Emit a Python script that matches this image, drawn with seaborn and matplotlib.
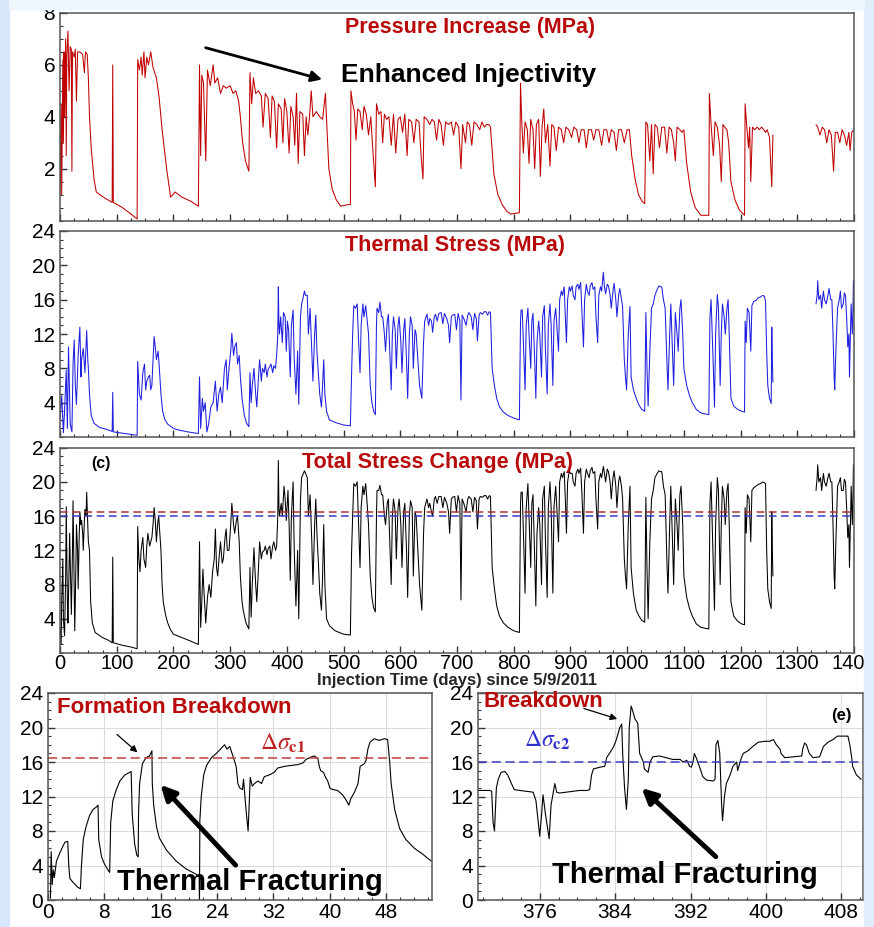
import numpy as np
import pandas as pd
import seaborn as sns
import matplotlib
matplotlib.use("Agg")
import matplotlib.pyplot as plt
from matplotlib.patches import Rectangle
from matplotlib.ticker import MultipleLocator

# ---------------- data (day, value) ----------------
pressure_pts = [
    (0, 1.0), (2, 4.5), (3, 1.0), (5, 6.2), (6, 3.0), (7, 6.5), (8, 4.0), (10, 7.0), (11, 2.5), (12, 6.3),
    (14, 7.3), (16, 5.0), (18, 6.7), (20, 6.6), (21, 1.9), (22, 6.5), (25, 6.3), (27, 6.6), (29, 4.6), (31, 6.5),
    (35, 6.5), (40, 6.4), (43, 5.7), (45, 6.5), (48, 6.4), (50, 5.5), (52, 4.0), (55, 2.8), (60, 1.6), (64, 1.1),
    (70, 1.0), (80, 0.85), (92, 0.7), (93, 6.0), (94, 0.7), (110, 0.5), (125, 0.25), (136, 0.06),
    (137, 6.2), (140, 5.8), (143, 6.3), (145, 5.6), (148, 6.5), (150, 5.5), (153, 6.3), (156, 6.0), (160, 6.5),
    (164, 5.9), (170, 5.5), (175, 4.7), (180, 3.5), (188, 2.0), (195, 0.9), (203, 1.1), (215, 0.9), (230, 0.75), (244, 0.55),
    (246, 6.0), (248, 2.5), (250, 5.6), (253, 5.3), (257, 2.3), (260, 5.8), (265, 5.2), (270, 6.0), (273, 5.3),
    (278, 5.5), (283, 4.9), (288, 5.2), (293, 5.1), (300, 5.2), (305, 4.9), (310, 5.0), (315, 4.6), (318, 4.0),
    (322, 3.0), (327, 2.3), (333, 1.9),
    (335, 5.7), (338, 4.5), (341, 5.5), (345, 4.9), (350, 5.0), (355, 4.8), (358, 3.6), (362, 4.9), (367, 4.7),
    (371, 3.2), (374, 4.8), (378, 4.6), (382, 2.8), (385, 4.5), (390, 4.3), (393, 3.0), (396, 4.7), (400, 4.2),
    (404, 2.6), (407, 4.4), (411, 4.0), (414, 2.9), (417, 4.9), (420, 2.2), (423, 4.2), (428, 4.1), (431, 2.5),
    (434, 4.0), (437, 3.3), (440, 4.0), (443, 5.0), (446, 4.0), (452, 4.2), (458, 4.0), (463, 3.9), (468, 4.9),
    (470, 3.9), (474, 2.0), (480, 1.2), (487, 0.8), (495, 0.55), (505, 0.6), (512, 0.62),
    (513, 5.0), (516, 4.5), (519, 4.2), (522, 3.1), (525, 4.3), (529, 4.2), (533, 3.5), (536, 4.4), (540, 4.1),
    (544, 3.3), (548, 4.0), (552, 2.6), (556, 1.3), (558, 4.5), (562, 4.1), (566, 4.2), (569, 3.0), (572, 4.1),
    (576, 3.9), (580, 4.0), (584, 2.9), (588, 4.1), (592, 2.6), (596, 3.9), (600, 4.0), (604, 3.4), (608, 4.1),
    (612, 2.5), (615, 3.9), (620, 3.8), (624, 3.0), (628, 3.9), (633, 3.8), (637, 2.4), (640, 1.6), (642, 4.0),
    (647, 3.9), (652, 3.7), (656, 3.9), (660, 3.8), (664, 3.1), (668, 3.9), (672, 3.7), (676, 2.9), (680, 3.8),
    (685, 3.7), (690, 3.8), (694, 3.3), (698, 3.8), (703, 3.6), (707, 2.0), (710, 3.7), (715, 3.0), (718, 3.8),
    (722, 3.7), (726, 2.9), (730, 3.8), (735, 3.7), (740, 3.5), (744, 3.8), (748, 3.6), (752, 3.7), (756, 3.7),
    (759, 3.6), (765, 1.8), (772, 1.0), (780, 0.6), (788, 0.35), (795, 0.25), (810, 0.3),
    (812, 5.3), (814, 3.9), (817, 2.6), (820, 3.8), (824, 3.5), (827, 2.2), (830, 3.9), (834, 3.5), (837, 2.0),
    (840, 3.7), (844, 3.9), (847, 1.7), (850, 3.6), (853, 4.3), (856, 3.0), (860, 3.7), (864, 2.1), (867, 3.7),
    (871, 3.6), (875, 2.7), (879, 3.6), (884, 3.5), (888, 3.0), (892, 3.6), (897, 3.5), (902, 3.2), (906, 3.6),
    (911, 3.5), (915, 3.0), (919, 3.5), (924, 3.5), (928, 2.8), (932, 3.5), (937, 3.5), (941, 3.1), (945, 3.5),
    (950, 3.5), (955, 2.9), (959, 3.5), (964, 3.5), (968, 3.0), (972, 3.5), (977, 3.4), (981, 2.7), (985, 3.5),
    (990, 3.5), (995, 3.0), (1000, 3.5), (1004, 3.5), (1008, 2.5), (1014, 1.6), (1020, 1.0), (1026, 0.75), (1031, 0.65),
    (1033, 3.8), (1036, 3.7), (1040, 2.3), (1043, 3.7), (1046, 1.8), (1049, 3.7), (1053, 3.6), (1057, 2.8),
    (1061, 3.6), (1066, 3.6), (1070, 2.6), (1074, 3.6), (1078, 3.5), (1082, 3.0), (1085, 2.3), (1088, 3.6),
    (1093, 3.5), (1097, 3.4), (1100, 3.5), (1105, 2.2), (1112, 1.1), (1120, 0.5), (1130, 0.2), (1144, 0.2),
    (1145, 4.9), (1148, 3.7), (1152, 2.5), (1155, 3.8), (1159, 3.6), (1163, 2.9), (1166, 1.5), (1169, 3.7),
    (1172, 3.6), (1176, 3.5), (1179, 3.0), (1183, 1.5), (1190, 0.8), (1198, 0.4), (1207, 0.2),
    (1208, 4.5), (1211, 3.6), (1214, 2.8), (1216, 3.6), (1218, 1.5), (1221, 3.6), (1225, 3.5), (1229, 3.6),
    (1233, 3.5), (1237, 3.6), (1241, 3.5), (1244, 3.4), (1247, 3.5), (1251, 3.2), (1255, 1.3), (1257, 3.3),
    (1295, np.nan),
    (1333, 3.7), (1336, 3.6), (1340, 3.3), (1344, 3.6), (1348, 3.5), (1352, 3.0), (1356, 3.5), (1360, 3.3),
    (1364, 1.9), (1367, 3.4), (1371, 3.4), (1375, 3.0), (1379, 3.5), (1383, 3.3), (1387, 2.9), (1391, 3.4),
    (1393, 2.7), (1396, 3.4), (1400, 3.5),
]

thermal_pts = [
    (0, 2.0), (3, 4.8), (6, 0.5), (8, 3.0), (11, 7.8), (13, 1.0), (15, 10.5), (18, 1.5), (21, 0.6), (23, 8.5),
    (25, 11.3), (27, 6.0), (29, 3.8), (32, 9.5), (35, 12.8), (37, 7.0), (38, 9.0), (41, 10.3), (44, 7.5),
    (47, 12.4), (49, 9.0), (50, 8.0), (52, 5.0), (55, 2.5), (60, 1.6), (70, 1.1), (82, 0.9), (92, 0.65),
    (93, 5.2), (94, 0.6), (110, 0.45), (125, 0.3), (136, 0.2),
    (137, 8.8), (140, 5.0), (143, 4.3), (146, 7.5), (149, 8.5), (151, 5.5), (153, 6.5), (156, 7.0), (158, 7.2),
    (160, 5.5), (162, 6.0), (164, 9.0), (166, 11.7), (168, 10.5), (170, 9.0), (173, 10.0), (175, 8.2), (178, 5.0),
    (181, 3.0), (185, 2.0), (190, 1.5), (200, 1.0), (210, 0.8), (225, 0.6), (244, 0.4),
    (246, 7.0), (248, 1.0), (251, 4.5), (253, 3.0), (256, 4.0), (259, 0.6), (262, 1.5), (266, 3.5), (270, 4.0),
    (274, 6.5), (277, 3.0), (280, 5.0), (283, 5.8), (286, 4.0), (290, 8.0), (293, 9.0), (295, 5.5), (298, 8.0),
    (301, 10.0), (303, 12.1), (306, 9.5), (308, 10.5), (311, 11.0), (313, 8.5), (316, 9.5), (318, 7.0),
    (321, 4.5), (325, 2.5), (329, 1.6), (333, 1.2),
    (335, 7.5), (337, 4.0), (339, 6.0), (342, 8.0), (345, 5.0), (347, 3.5), (350, 7.0), (352, 9.0), (355, 6.5),
    (357, 8.0), (360, 7.5), (362, 8.5), (365, 7.0), (367, 7.9), (370, 8.2), (372, 8.5), (375, 7.5), (377, 8.3),
    (380, 8.0), (382, 9.5), (384, 12.0), (385, 17.5), (386, 13.0), (387, 12.0), (389, 14.0), (392, 11.0),
    (394, 14.5), (397, 14.0), (399, 10.0), (401, 13.5), (403, 12.5), (406, 7.0), (408, 13.0), (411, 14.8),
    (413, 9.0), (416, 5.0), (419, 10.0), (421, 3.8), (424, 14.0), (426, 15.5), (428, 16.0), (431, 17.0),
    (433, 16.5), (436, 16.5), (438, 12.0), (441, 15.0), (444, 10.0), (446, 6.5), (449, 12.0), (451, 14.2),
    (453, 10.0), (456, 7.0), (458, 5.0), (461, 3.5), (463, 6.0), (465, 9.0), (467, 5.0), (470, 3.0), (475, 2.0),
    (485, 1.7), (500, 1.4), (512, 1.3),
    (514, 7.0), (516, 12.0), (518, 15.3), (521, 15.0), (524, 15.5), (526, 12.0), (529, 7.5), (531, 13.0),
    (534, 15.5), (536, 14.0), (539, 15.3), (541, 14.0), (544, 12.0), (547, 6.0), (550, 4.0), (553, 3.0),
    (556, 2.6), (558, 13.0), (559, 15.0), (562, 14.5), (564, 15.7), (567, 14.0), (569, 14.0), (572, 12.0),
    (574, 10.0), (577, 13.5), (579, 14.3), (582, 9.0), (584, 5.5), (586, 12.0), (588, 14.0), (591, 12.5),
    (593, 8.0), (596, 13.0), (598, 14.0), (601, 11.0), (603, 7.5), (606, 12.5), (608, 13.8), (611, 9.0),
    (613, 4.5), (616, 12.0), (618, 14.0), (621, 13.0), (623, 8.0), (626, 12.5), (628, 12.0), (631, 9.0),
    (634, 6.0), (638, 4.5), (641, 11.0), (643, 13.5), (647, 14.3), (650, 13.0), (652, 13.8), (655, 13.5),
    (657, 12.2), (660, 14.0), (662, 14.3), (665, 13.5), (668, 14.4), (672, 14.5), (675, 13.2), (678, 14.4),
    (682, 13.8), (685, 13.0), (687, 11.0), (690, 14.0), (692, 14.2), (696, 14.3), (699, 12.5), (702, 14.4),
    (705, 13.5), (707, 4.3), (709, 14.2), (712, 13.8), (716, 13.0), (719, 14.2), (721, 14.5), (725, 14.0),
    (728, 12.5), (731, 14.4), (734, 13.8), (736, 11.2), (739, 14.2), (741, 14.5), (745, 14.3), (748, 14.6),
    (751, 14.6), (754, 14.2), (757, 14.6), (759, 14.5), (762, 8.0), (766, 6.0), (770, 4.5), (775, 3.5),
    (782, 2.9), (790, 2.5), (800, 2.2), (810, 2.0),
    (812, 13.5), (813, 14.8), (815, 14.8), (818, 9.0), (820, 5.5), (822, 13.0), (825, 15.0), (827, 12.0),
    (830, 8.0), (832, 13.5), (834, 14.4), (837, 9.0), (839, 4.5), (841, 11.0), (844, 13.5), (846, 12.0),
    (849, 7.0), (851, 14.0), (854, 15.3), (856, 10.0), (859, 5.0), (861, 13.0), (864, 15.5), (866, 13.0),
    (869, 6.0), (871, 13.5), (874, 15.0), (876, 13.0), (879, 10.0), (881, 16.0), (884, 17.0), (886, 16.5),
    (889, 17.5), (891, 14.0), (893, 11.0), (895, 16.0), (898, 17.5), (900, 17.0), (903, 17.6), (905, 16.5),
    (908, 16.0), (910, 17.5), (913, 17.8), (915, 17.2), (918, 18.0), (920, 15.0), (923, 10.5), (925, 16.0),
    (928, 17.8), (930, 17.0), (933, 16.5), (935, 17.6), (938, 18.0), (940, 17.2), (943, 17.5), (945, 14.0),
    (948, 11.0), (950, 16.5), (953, 17.5), (955, 17.0), (958, 19.2), (960, 17.5), (962, 16.7), (965, 17.8),
    (967, 17.6), (970, 16.5), (972, 15.0), (975, 17.0), (977, 17.9), (980, 16.0), (982, 14.0), (985, 16.5),
    (987, 17.3), (990, 16.0), (992, 15.2), (995, 9.0), (997, 7.0), (999, 5.5), (1002, 12.0), (1005, 15.2),
    (1007, 7.0), (1011, 5.5), (1016, 4.5), (1021, 3.7), (1026, 3.2), (1031, 3.0),
    (1033, 14.5), (1035, 8.0), (1037, 3.6), (1040, 10.0), (1043, 15.0), (1046, 15.5), (1049, 16.5), (1053, 17.2),
    (1056, 17.6), (1059, 17.5), (1061, 17.5), (1064, 16.0), (1067, 15.0), (1070, 9.0), (1072, 5.5), (1075, 12.0),
    (1077, 15.5), (1080, 10.0), (1082, 6.0), (1084, 12.0), (1085, 14.5), (1088, 12.0), (1090, 10.0), (1093, 15.0),
    (1095, 16.0), (1098, 12.0), (1100, 8.0), (1105, 6.0), (1110, 4.8), (1115, 4.0), (1122, 3.2), (1130, 2.8), (1144, 2.6),
    (1146, 14.0), (1148, 16.0), (1150, 12.0), (1152, 8.0), (1154, 3.5), (1156, 12.0), (1159, 16.6), (1161, 15.0),
    (1164, 6.0), (1166, 12.0), (1168, 15.5), (1171, 14.0), (1173, 12.0), (1176, 15.0), (1178, 16.0), (1180, 12.0),
    (1183, 4.5), (1188, 3.6), (1195, 3.2), (1202, 3.0), (1207, 2.9),
    (1208, 13.5), (1210, 11.0), (1212, 15.0), (1215, 14.5), (1218, 10.0), (1220, 15.3), (1223, 15.8), (1227, 15.9),
    (1231, 16.2), (1235, 16.3), (1239, 16.5), (1242, 16.4), (1244, 15.8), (1246, 10.0), (1248, 6.0), (1251, 4.5),
    (1254, 3.9), (1255, 12.8), (1256, 9.0), (1257, 6.4),
    (1295, np.nan),
    (1333, 15.5), (1335, 16.5), (1336, 18.2), (1338, 16.0), (1341, 16.5), (1343, 15.0), (1346, 17.0), (1348, 16.0),
    (1351, 15.5), (1354, 16.5), (1356, 17.3), (1359, 16.0), (1361, 16.0), (1363, 12.0), (1365, 7.0), (1366, 5.5),
    (1368, 10.0), (1371, 15.0), (1374, 16.0), (1376, 17.0), (1378, 15.0), (1381, 15.5), (1383, 16.8), (1385, 16.5),
    (1387, 14.0), (1389, 10.5), (1391, 12.0), (1392, 7.0), (1394, 13.0), (1395, 15.5), (1397, 12.0), (1398, 14.0),
    (1399, 18.2), (1400, 14.5),
]

total_pts = [
    (0, 3.0), (2, 1.0), (3, 6.0), (5, 11.0), (6, 4.0), (8, 2.0), (10, 9.0), (11, 17.1), (13, 6.0), (14, 3.5),
    (16, 10.0), (17, 14.0), (19, 8.0), (20, 4.5), (22, 12.0), (23, 17.8), (25, 7.0), (26, 2.6), (28, 10.0),
    (29, 15.0), (31, 12.0), (32, 7.5), (34, 14.0), (35, 16.5), (37, 15.0), (38, 15.5), (40, 14.0), (41, 12.0),
    (43, 15.5), (44, 16.8), (46, 16.0), (47, 18.8), (49, 15.0), (50, 13.0), (52, 12.0), (54, 6.0), (57, 3.5),
    (62, 2.4), (64, 2.3), (75, 1.8), (85, 1.5), (92, 1.2), (93, 11.2), (94, 1.2), (110, 0.9), (125, 0.7), (136, 0.5),
    (137, 14.8), (139, 11.0), (141, 9.5), (143, 12.0), (146, 13.5), (148, 11.0), (151, 10.0), (153, 12.5),
    (155, 14.0), (157, 13.0), (158, 12.5), (160, 13.0), (162, 13.5), (164, 15.0), (166, 17.0), (168, 15.5),
    (170, 13.0), (172, 15.0), (174, 16.0), (176, 14.0), (178, 12.0), (180, 8.0), (182, 6.0), (186, 4.5),
    (190, 3.5), (195, 2.7), (200, 2.2), (215, 1.8), (230, 1.4), (244, 1.0),
    (246, 13.0), (248, 3.0), (250, 6.0), (252, 9.8), (254, 7.0), (257, 3.5), (260, 6.5), (263, 8.0), (266, 6.5),
    (269, 9.5), (272, 11.0), (274, 14.5), (276, 10.0), (278, 9.0), (281, 11.5), (283, 13.0), (286, 10.5),
    (288, 11.0), (291, 13.5), (293, 14.5), (295, 12.0), (298, 12.0), (301, 15.0), (303, 17.5), (306, 15.0),
    (308, 14.0), (311, 15.5), (313, 16.0), (316, 13.0), (318, 9.0), (321, 6.0), (323, 5.0), (328, 3.5), (333, 2.8),
    (335, 10.0), (337, 4.2), (339, 8.0), (342, 12.3), (345, 8.0), (347, 6.0), (350, 10.0), (352, 13.0),
    (355, 11.0), (357, 11.8), (360, 12.0), (362, 12.5), (365, 11.5), (367, 12.2), (370, 12.5), (372, 11.0),
    (375, 12.5), (377, 13.0), (380, 12.0), (382, 12.5), (384, 16.0), (385, 22.5), (386, 17.0), (387, 16.0),
    (390, 17.5), (392, 16.0), (395, 19.5), (397, 18.0), (399, 15.5), (402, 19.0), (404, 15.0), (406, 8.5),
    (408, 16.0), (411, 20.0), (413, 12.0), (416, 5.5), (419, 12.0), (421, 4.0), (424, 18.0), (426, 20.5),
    (428, 20.8), (431, 21.3), (433, 21.0), (436, 20.5), (438, 16.0), (441, 18.5), (444, 13.0), (446, 8.0),
    (449, 15.0), (451, 18.0), (453, 14.0), (456, 10.0), (458, 7.0), (461, 5.0), (463, 9.0), (465, 15.0),
    (467, 8.0), (470, 4.0), (475, 3.2), (485, 2.6), (500, 2.2), (512, 2.1),
    (514, 11.5), (516, 16.0), (518, 19.8), (521, 19.5), (524, 20.0), (526, 16.0), (529, 10.0), (531, 17.0),
    (534, 19.5), (536, 18.5), (539, 19.8), (541, 18.0), (544, 15.0), (547, 9.0), (550, 6.5), (553, 5.3),
    (556, 4.8), (558, 16.0), (559, 19.0), (562, 19.0), (564, 19.6), (567, 18.5), (569, 18.5), (572, 16.0),
    (574, 15.0), (577, 17.5), (579, 18.0), (582, 12.0), (584, 8.0), (586, 16.0), (588, 18.0), (591, 16.5),
    (593, 11.0), (596, 17.0), (598, 18.0), (601, 15.0), (603, 10.0), (606, 16.5), (608, 17.5), (611, 12.0),
    (613, 6.5), (616, 16.0), (618, 17.8), (621, 17.0), (623, 9.0), (626, 16.5), (628, 16.0), (631, 12.0),
    (634, 8.0), (638, 5.0), (641, 14.0), (643, 17.0), (647, 18.0), (650, 17.0), (652, 17.5), (655, 16.5),
    (657, 16.0), (660, 18.0), (662, 18.3), (665, 17.5), (668, 18.3), (672, 18.3), (675, 17.0), (678, 18.2),
    (682, 17.5), (685, 16.5), (687, 14.0), (690, 18.0), (692, 18.2), (696, 18.3), (699, 16.5), (702, 18.4),
    (705, 17.5), (707, 6.2), (709, 18.0), (712, 17.5), (716, 16.5), (719, 18.0), (721, 18.3), (725, 18.0),
    (728, 16.5), (731, 18.2), (734, 17.8), (736, 14.5), (739, 18.0), (741, 18.3), (745, 18.2), (748, 18.4),
    (751, 18.4), (754, 18.0), (757, 18.4), (759, 18.3), (762, 10.0), (766, 7.5), (770, 5.5), (775, 4.3),
    (782, 3.5), (790, 3.0), (800, 2.6), (810, 2.4),
    (812, 17.5), (813, 18.8), (815, 18.8), (818, 12.0), (820, 7.0), (822, 17.0), (825, 19.8), (827, 16.0),
    (830, 10.0), (832, 17.5), (834, 18.5), (837, 11.0), (839, 5.5), (841, 14.0), (844, 17.0), (846, 15.0),
    (849, 8.0), (851, 18.0), (854, 19.5), (856, 13.0), (859, 6.5), (861, 17.0), (864, 20.0), (866, 17.0),
    (869, 7.0), (871, 17.0), (874, 19.5), (876, 17.0), (879, 13.0), (881, 20.0), (884, 21.0), (886, 20.5),
    (889, 21.2), (891, 18.0), (893, 14.0), (895, 20.0), (898, 21.3), (900, 21.0), (903, 21.0), (905, 20.0),
    (908, 19.5), (910, 21.0), (913, 21.5), (915, 21.0), (918, 21.6), (920, 19.0), (923, 14.0), (925, 20.0),
    (928, 21.5), (930, 21.0), (933, 20.5), (935, 21.3), (938, 21.7), (940, 21.0), (943, 21.2), (945, 18.0),
    (948, 14.5), (950, 20.0), (953, 21.0), (955, 20.5), (958, 21.8), (960, 21.0), (962, 20.0), (965, 21.5),
    (967, 21.2), (970, 20.0), (972, 18.0), (975, 20.5), (977, 21.3), (980, 19.5), (982, 17.0), (985, 20.0),
    (987, 20.7), (990, 19.5), (992, 18.0), (995, 11.0), (997, 9.0), (999, 7.5), (1002, 15.0), (1005, 19.5),
    (1007, 10.0), (1011, 7.0), (1016, 5.0), (1021, 4.3), (1026, 3.8), (1031, 3.6),
    (1033, 18.2), (1035, 10.0), (1037, 4.0), (1040, 13.0), (1043, 18.0), (1046, 19.0), (1049, 20.5), (1053, 21.0),
    (1056, 21.3), (1059, 21.2), (1061, 21.2), (1064, 19.5), (1067, 18.5), (1070, 11.0), (1072, 7.0), (1075, 15.0),
    (1077, 19.5), (1080, 13.0), (1082, 8.0), (1084, 15.0), (1085, 18.0), (1088, 15.0), (1090, 12.0), (1093, 18.5),
    (1095, 19.5), (1098, 15.0), (1100, 9.0), (1105, 6.5), (1110, 5.2), (1115, 4.3), (1122, 3.4), (1130, 3.0), (1144, 2.8),
    (1146, 17.5), (1148, 20.0), (1150, 15.0), (1152, 10.0), (1154, 5.0), (1156, 15.0), (1159, 20.5), (1161, 19.0),
    (1164, 8.0), (1166, 15.0), (1168, 19.5), (1171, 18.0), (1173, 15.0), (1176, 19.0), (1178, 19.8), (1180, 15.0),
    (1183, 6.0), (1188, 4.3), (1195, 3.7), (1202, 3.4), (1207, 3.3),
    (1208, 17.0), (1210, 14.0), (1212, 18.5), (1215, 18.0), (1218, 13.0), (1220, 19.0), (1223, 19.3), (1227, 19.5),
    (1231, 19.7), (1235, 19.8), (1239, 20.0), (1242, 19.9), (1244, 19.8), (1246, 12.0), (1248, 7.5), (1251, 6.0),
    (1254, 5.2), (1255, 16.5), (1256, 12.0), (1257, 9.0),
    (1295, np.nan),
    (1333, 19.0), (1335, 20.5), (1336, 22.0), (1338, 20.0), (1341, 20.5), (1343, 19.0), (1346, 21.0), (1348, 20.0),
    (1351, 19.5), (1354, 20.5), (1356, 21.0), (1359, 20.0), (1361, 20.0), (1363, 15.0), (1365, 9.0), (1366, 7.5),
    (1368, 13.0), (1371, 19.5), (1374, 20.0), (1376, 20.5), (1378, 19.0), (1381, 19.0), (1383, 20.3), (1385, 20.0),
    (1387, 17.0), (1389, 13.5), (1391, 15.0), (1392, 10.0), (1394, 16.0), (1395, 19.5), (1397, 15.0), (1398, 17.5),
    (1399, 22.0), (1400, 18.0),
]

# zoom (d): first ~55 days
early_pts = [
    (0.35, 0.2), (0.45, 5.6), (0.6, 1.8), (0.75, 3.5), (0.9, 2.6), (1.0, 3.2), (1.2, 4.5), (1.7, 5.5), (2.1, 6.2),
    (2.4, 6.7), (2.8, 6.8), (2.95, 4.0), (3.1, 2.5), (3.6, 2.0), (4.2, 1.5), (4.6, 1.3),
    (4.75, 4.0), (5.0, 7.0), (5.4, 8.5), (5.9, 9.8), (6.4, 10.5), (6.9, 10.8), (7.1, 11.0), (7.2, 7.0),
    (7.6, 5.0), (8.0, 4.2), (8.5, 3.5), (8.75, 3.2),
    (8.9, 9.0), (9.2, 11.5), (9.7, 12.8), (10.2, 13.8), (10.9, 14.5), (11.6, 14.8), (11.8, 14.9), (11.95, 10.0),
    (12.3, 6.5), (12.6, 5.2), (12.8, 5.0),
    (12.85, 10.0), (13.0, 13.5), (13.4, 15.8), (13.9, 16.5), (14.4, 16.7), (14.75, 17.3), (14.8, 13.5),
    (15.0, 11.0), (15.4, 8.5), (15.8, 7.2), (16.8, 5.8), (18.2, 4.5), (19.6, 3.6), (21.0, 3.0), (21.45, 2.7),
    (21.5, 0.0), (21.55, 9.2), (21.75, 12.0), (22.1, 14.5), (22.5, 15.6), (23.2, 16.5), (23.9, 17.0), (24.6, 17.6),
    (25.06, 18.0), (25.4, 17.5), (25.8, 17.8), (26.2, 16.8), (26.7, 15.5), (26.95, 13.5), (27.2, 13.0),
    (27.6, 12.8), (27.75, 14.0), (27.9, 12.5), (28.1, 10.5), (28.4, 8.0), (28.55, 11.0), (28.7, 14.2),
    (29.0, 13.2), (29.3, 13.5), (29.8, 13.8), (30.3, 13.5), (30.7, 14.3), (31.4, 14.5), (32.1, 14.8),
    (32.6, 15.3), (33.6, 15.5), (34.5, 15.6), (35.5, 15.7), (36.2, 15.9), (36.6, 16.3), (37.4, 16.6),
    (37.8, 16.7), (38.3, 16.4), (38.5, 15.5), (38.7, 15.0), (39.1, 14.8), (39.4, 14.2), (39.7, 13.8),
    (40.0, 13.0), (40.4, 12.8), (41.1, 12.7), (41.8, 12.2), (42.3, 11.6), (42.7, 11.0), (43.0, 11.8),
    (43.5, 12.5), (44.0, 13.5), (44.3, 15.5), (44.9, 15.8), (45.15, 16.2), (45.4, 17.5), (45.7, 18.3),
    (46.3, 18.7), (47.0, 18.5), (47.75, 18.7), (48.2, 18.6), (48.5, 16.0), (48.7, 13.5), (49.2, 10.5),
    (49.9, 8.3), (50.8, 7.0), (52.0, 6.0), (53.2, 5.3), (54.4, 4.5),
]

# zoom (e): days ~370-410
mid_pts = [
    (369.5, 12.7), (370.7, 12.7), (370.9, 12.6), (371.05, 9.0), (371.2, 8.0), (371.4, 13.0), (371.6, 14.0),
    (371.9, 14.8), (372.3, 14.9), (372.6, 14.5), (373.0, 13.5), (373.3, 12.8), (373.9, 12.7), (374.6, 12.6),
    (375.3, 12.5), (375.6, 11.5), (376.0, 7.4), (376.2, 10.0), (376.35, 12.2), (376.6, 10.0), (377.0, 7.1),
    (377.2, 11.0), (377.6, 13.5), (377.8, 12.5), (378.1, 12.4), (378.8, 12.5), (379.5, 12.6), (380.2, 12.7),
    (381.0, 12.7), (381.3, 12.8), (381.5, 14.5), (381.7, 15.2), (382.4, 15.4), (382.9, 15.5), (383.1, 16.5),
    (383.4, 17.0), (383.8, 17.7), (384.1, 18.5), (384.5, 20.0), (384.7, 20.4), (384.8, 17.0), (385.0, 13.0),
    (385.2, 10.5), (385.4, 14.0), (385.5, 20.0), (385.7, 22.5), (385.9, 21.8), (386.1, 21.0), (386.4, 20.5),
    (386.6, 17.0), (386.8, 16.5), (387.0, 16.0), (387.1, 15.2), (387.5, 14.8), (387.7, 16.0), (388.0, 16.6),
    (388.7, 16.7), (389.4, 16.5), (390.1, 16.3), (390.9, 16.3), (391.2, 16.0), (391.6, 16.2), (391.9, 15.5),
    (392.1, 15.4), (392.3, 16.2), (392.4, 17.0), (392.6, 16.5), (393.0, 15.3), (393.3, 14.3), (393.7, 13.9),
    (394.4, 13.8), (394.6, 14.0), (394.7, 18.0), (394.9, 18.5), (395.1, 17.0), (395.3, 11.0), (395.4, 9.2),
    (395.6, 12.0), (395.8, 13.5), (396.2, 14.5), (396.5, 15.5), (396.9, 16.0), (397.0, 15.0), (397.4, 16.5),
    (397.6, 17.0), (398.1, 17.3), (398.6, 17.8), (399.2, 18.3), (399.9, 18.4), (400.4, 18.4), (400.8, 18.6),
    (401.1, 18.0), (401.5, 17.5), (401.6, 17.0), (402.0, 16.5), (402.9, 16.6), (403.8, 16.7), (403.9, 17.5),
    (404.1, 18.2), (404.3, 18.0), (404.6, 17.0), (405.0, 16.5), (405.7, 16.6), (406.1, 17.8), (406.6, 18.3),
    (407.1, 18.6), (407.6, 19.0), (408.2, 19.0), (408.7, 19.0), (408.9, 18.0), (409.1, 16.5), (409.2, 15.5),
    (409.6, 14.5), (410.1, 14.0),
]

sigma_c1 = 16.5   # red dashed threshold
sigma_c2 = 16.0   # blue dashed threshold

# ---------------- helpers ----------------
def frame(pts):
    df = pd.DataFrame(pts, columns=["day", "val"])
    df["seg"] = df["val"].isna().cumsum()
    return df.dropna()

W, H = 874, 927
sns.set_theme(style="ticks")
plt.rcParams["font.family"] = ["Liberation Sans", "DejaVu Sans"]
plt.rcParams["axes.linewidth"] = 1.1
plt.rcParams["axes.edgecolor"] = "#555555"
plt.rcParams["mathtext.fontset"] = "stix"

fig = plt.figure(figsize=(W / 100, H / 100), dpi=100, facecolor="white")

def add_ax(x0, y0, x1, y1):
    return fig.add_axes([x0 / W, 1 - y1 / H, (x1 - x0) / W, (y1 - y0) / H])

ax1 = add_ax(60, 13, 854, 220.5)
ax2 = add_ax(60, 231, 854, 437)
ax3 = add_ax(60, 447.7, 854, 653)
ax4 = add_ax(48, 693, 432, 900)
ax5 = add_ax(478, 693, 863, 900)

RED = "#c00000"
TITLE_RED = "#b80a0a"
BLUE = "#1f1fe0"

def style(ax, xmin, ymin, tick_font=14, xpad=2):
    ax.tick_params(which="both", direction="in", top=False, right=False, colors="#333333",
                   labelcolor="black", labelsize=tick_font)
    ax.tick_params(which="major", length=5, width=1)
    ax.tick_params(which="minor", length=2.5, width=0.8)
    ax.tick_params(axis="x", pad=xpad)
    ax.xaxis.set_minor_locator(MultipleLocator(xmin))
    ax.yaxis.set_minor_locator(MultipleLocator(ymin))
    ax.set_xlabel("")
    ax.set_ylabel("")

# ---------- panel 1: pressure ----------
sns.lineplot(data=frame(pressure_pts), x="day", y="val", units="seg", estimator=None, sort=False,
             color=RED, lw=0.75, ax=ax1)
ax1.set_xlim(0, 1400); ax1.set_ylim(0, 8)
ax1.set_xticks(np.arange(0, 1401, 100)); ax1.set_xticklabels([])
ax1.set_yticks([2, 4, 6, 8])
style(ax1, 25, 0.5, 15)
ax1.text(0.516, 0.928, "Pressure Increase (MPa)", transform=ax1.transAxes, ha="center", va="center",
         color=TITLE_RED, fontsize=15.5, fontweight="bold")
ax1.text(0.514, 0.70, "Enhanced Injectivity", transform=ax1.transAxes, ha="center", va="center",
         color="black", fontsize=19, fontweight="bold")
ax1.annotate("", xy=(467, 5.41), xytext=(252, 6.69),
             arrowprops=dict(arrowstyle="-|>", color="black", lw=2, mutation_scale=16))

# ---------- panel 2: thermal ----------
sns.lineplot(data=frame(thermal_pts), x="day", y="val", units="seg", estimator=None, sort=False,
             color=BLUE, lw=0.75, ax=ax2)
ax2.set_xlim(0, 1400); ax2.set_ylim(0, 24)
ax2.set_xticks(np.arange(0, 1401, 100)); ax2.set_xticklabels([])
ax2.set_yticks([4, 8, 12, 16, 20, 24])
style(ax2, 25, 1, 15)
ax2.text(0.497, 0.932, "Thermal Stress (MPa)", transform=ax2.transAxes, ha="center", va="center",
         color=TITLE_RED, fontsize=15.5, fontweight="bold")

# ---------- panel 3: total ----------
sns.lineplot(data=frame(total_pts), x="day", y="val", units="seg", estimator=None, sort=False,
             color="black", lw=0.75, ax=ax3)
ax3.axhline(sigma_c1, color="#b03030", ls=(0, (5, 3)), lw=1.1)
ax3.axhline(sigma_c2, color="#3a3ac8", ls=(0, (5, 3)), lw=1.1)
ax3.set_xlim(0, 1400); ax3.set_ylim(0, 24)
ax3.set_xticks(np.arange(0, 1401, 100))
ax3.set_yticks([4, 8, 12, 16, 20, 24])
style(ax3, 25, 1, 15, xpad=1)
ax3.tick_params(axis="x", labelsize=14.5)
ax3.text(0.475, 0.93, "Total Stress Change (MPa)", transform=ax3.transAxes, ha="center", va="center",
         color=TITLE_RED, fontsize=15.5, fontweight="bold")
ax3.text(0.052, 0.925, "(c)", transform=ax3.transAxes, ha="center", va="center",
         color="black", fontsize=11.5, fontweight="bold")
ax3.set_xlabel("Injection Time (days) since 5/9/2011", fontsize=12, fontweight="bold", labelpad=0)

# ---------- panel 4: early zoom ----------
sns.lineplot(data=frame(early_pts), x="day", y="val", units="seg", estimator=None, sort=False,
             color="black", lw=0.8, ax=ax4)
ax4.axhline(sigma_c1, color="#c04040", ls=(0, (6, 3)), lw=1.1)
ax4.set_xlim(0, 54.5); ax4.set_ylim(0, 24)
ax4.set_xticks(np.arange(0, 49, 8)); ax4.set_yticks(np.arange(0, 25, 4))
ax4.grid(True, color="#dcdcdc", lw=0.8)
ax4.set_axisbelow(True)
style(ax4, 2, 1, 15)
ax4.text(0.023, 0.928, "Formation Breakdown", transform=ax4.transAxes, ha="left", va="center",
         color=TITLE_RED, fontsize=16, fontweight="bold")
ax4.text(0.61, 0.755, r"$\Delta\sigma_{\mathbf{c1}}$", transform=ax4.transAxes, ha="center", va="center",
         color="#c02020", fontsize=17)
ax4.annotate("", xy=(13.0, 16.9), xytext=(9.5, 19.4),
             arrowprops=dict(arrowstyle="-|>", color="black", lw=0.9, mutation_scale=10))
ax4.annotate("", xy=(15.7, 13.6), xytext=(26.9, 3.8),
             arrowprops=dict(arrowstyle="-|>", color="black", lw=3.5, mutation_scale=22))
ax4.text(0.526, 0.087, "Thermal Fracturing", transform=ax4.transAxes, ha="center", va="center",
         color="black", fontsize=21, fontweight="bold")

# ---------- panel 5: mid zoom ----------
sns.lineplot(data=frame(mid_pts), x="day", y="val", units="seg", estimator=None, sort=False,
             color="black", lw=0.8, ax=ax5)
ax5.axhline(sigma_c2, color="#4040c0", ls=(0, (6, 3)), lw=1.1)
ax5.set_xlim(369.45, 410.3); ax5.set_ylim(0, 24)
ax5.set_xticks(np.arange(376, 409, 8)); ax5.set_yticks(np.arange(0, 25, 4))
ax5.grid(True, color="#dcdcdc", lw=0.8)
ax5.set_axisbelow(True)
style(ax5, 2, 1, 15)
ax5.text(0.013, 0.957, "Breakdown", transform=ax5.transAxes, ha="left", va="center",
         color=TITLE_RED, fontsize=16, fontweight="bold")
ax5.text(0.945, 0.889, "(e)", transform=ax5.transAxes, ha="center", va="center",
         color="black", fontsize=12, fontweight="bold")
ax5.text(0.18, 0.773, r"$\Delta\sigma_{\mathbf{c2}}$", transform=ax5.transAxes, ha="center", va="center",
         color="#3030d0", fontsize=17)
ax5.annotate("", xy=(384.5, 20.9), xytext=(380.4, 22.3),
             arrowprops=dict(arrowstyle="-|>", color="black", lw=0.9, mutation_scale=10))
ax5.annotate("", xy=(386.6, 13.2), xytext=(394.9, 4.8),
             arrowprops=dict(arrowstyle="-|>", color="black", lw=3.5, mutation_scale=22))
ax5.text(0.538, 0.12, "Thermal Fracturing", transform=ax5.transAxes, ha="center", va="center",
         color="black", fontsize=21, fontweight="bold")

# ---------- page border strips ----------
fig.patches.append(Rectangle((0, 0), 9 / W, 1, transform=fig.transFigure, color="#d6e6fb", zorder=10))
fig.patches.append(Rectangle((864 / W, 0), 10 / W, 1, transform=fig.transFigure, color="#e2edfc", zorder=10))
fig.patches.append(Rectangle((9 / W, 1 - 9 / H), 855 / W, 9 / H, transform=fig.transFigure, color="#eff5fd", zorder=10))

fig.savefig("out.png", dpi=100, facecolor=fig.get_facecolor())
